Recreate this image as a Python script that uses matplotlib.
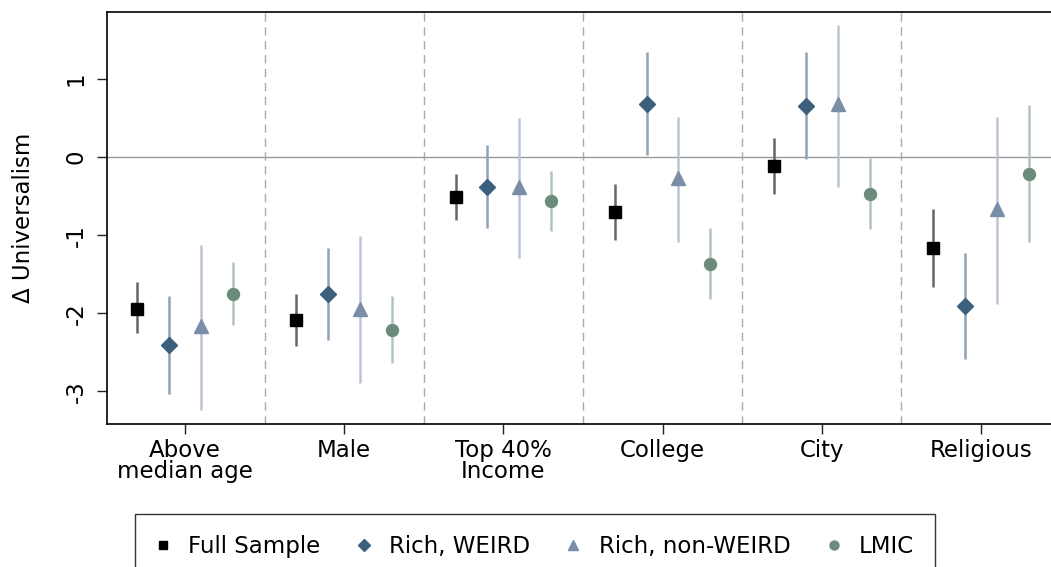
import numpy as np
import matplotlib
matplotlib.use('Agg')
import matplotlib.pyplot as plt

# Data
categories = ['Above\nmedian age', 'Male', 'Top 40%\nIncome', 'College', 'City', 'Religious']
series = ['Full Sample', 'Rich, WEIRD', 'Rich, non-WEIRD', 'LMIC']

full_est = [-1.94, -2.09, -0.51, -0.70, -0.11, -1.16]
full_lo = [-2.26, -2.42, -0.81, -1.06, -0.47, -1.67]
full_hi = [-1.60, -1.76, -0.21, -0.35, 0.24, -0.67]

weird_est = [-2.41, -1.76, -0.38, 0.68, 0.65, -1.91]
weird_lo = [-3.04, -2.34, -0.91, 0.03, -0.03, -2.59]
weird_hi = [-1.78, -1.17, 0.15, 1.35, 1.35, -1.23]

nonweird_est = [-2.17, -1.94, -0.38, -0.27, 0.68, -0.66]
nonweird_lo = [-3.24, -2.89, -1.29, -1.09, -0.38, -1.88]
nonweird_hi = [-1.12, -1.01, 0.50, 0.51, 1.70, 0.52]

lmic_est = [-1.75, -2.21, -0.56, -1.37, -0.47, -0.21]
lmic_lo = [-2.15, -2.64, -0.95, -1.82, -0.92, -1.09]
lmic_hi = [-1.34, -1.78, -0.18, -0.91, -0.01, 0.67]

estimates = [full_est, weird_est, nonweird_est, lmic_est]
lows = [full_lo, weird_lo, nonweird_lo, lmic_lo]
highs = [full_hi, weird_hi, nonweird_hi, lmic_hi]

markers = ['s', 'D', '^', 'o']
marker_sizes = [8.6, 7.8, 10.5, 8.6]
marker_colors = ['black', '#3b5f7d', '#7a8ea8', '#6b8b7b']
ci_colors = ['#666666', '#8ea3b6', '#bac6d3', '#b3c5ba']
offsets = [-0.3, -0.1, 0.1, 0.3]

plt.rcParams['font.family'] = 'DejaVu Sans'
fs = 16.5

fig = plt.figure(figsize=(10.51, 5.67), dpi=100)
ax = fig.add_axes([0.1018, 0.2522, 0.8982, 0.7266])

x = np.arange(len(categories))

ax.axhline(0, color='#999999', linewidth=1, zorder=1)
for d in x[:-1] + 0.5:
    ax.axvline(d, color='#aaaaaa', linestyle=(0, (6, 4)), linewidth=1, zorder=1)

handles = []
for est, lo, hi, mk, ms, mc, cc, off, name in zip(estimates, lows, highs, markers,
                                                   marker_sizes, marker_colors,
                                                   ci_colors, offsets, series):
    xs = x + off
    ax.vlines(xs, lo, hi, color=cc, linewidth=1.8, zorder=2)
    h, = ax.plot(xs, est, linestyle='none', marker=mk, markersize=ms,
                 color=mc, markeredgecolor=mc, zorder=3, label=name)
    handles.append(h)

ax.set_xlim(-0.49, 5.44)
ax.set_ylim(-3.42, 1.86)
ax.set_xticks(x)
ax.set_xticklabels(categories, fontsize=fs, linespacing=0.85)
ax.set_yticks([-3, -2, -1, 0, 1])
ax.set_yticklabels(['-3', '-2', '-1', '0', '1'], fontsize=fs, rotation=90, va='center')
ax.set_ylabel('Δ Universalism', fontsize=fs, labelpad=21)
ax.tick_params(axis='both', length=7, width=1, color='#222222')
ax.tick_params(axis='y', pad=7)
ax.tick_params(axis='x', pad=4)
ax.spines['right'].set_visible(False)
for s in ['left', 'bottom', 'top']:
    ax.spines[s].set_linewidth(1.2)

# legend box runs off the bottom edge, as in the original
leg = fig.legend(handles=handles, loc='upper center', bbox_to_anchor=(0.509, 0.113),
                 ncol=4, fontsize=fs, frameon=True, fancybox=False,
                 edgecolor='black', handlelength=0.6, handletextpad=0.8,
                 columnspacing=1.6, borderpad=0.9, markerscale=0.75)
leg.get_frame().set_linewidth(1.0)

fig.savefig('out.png', dpi=100)
